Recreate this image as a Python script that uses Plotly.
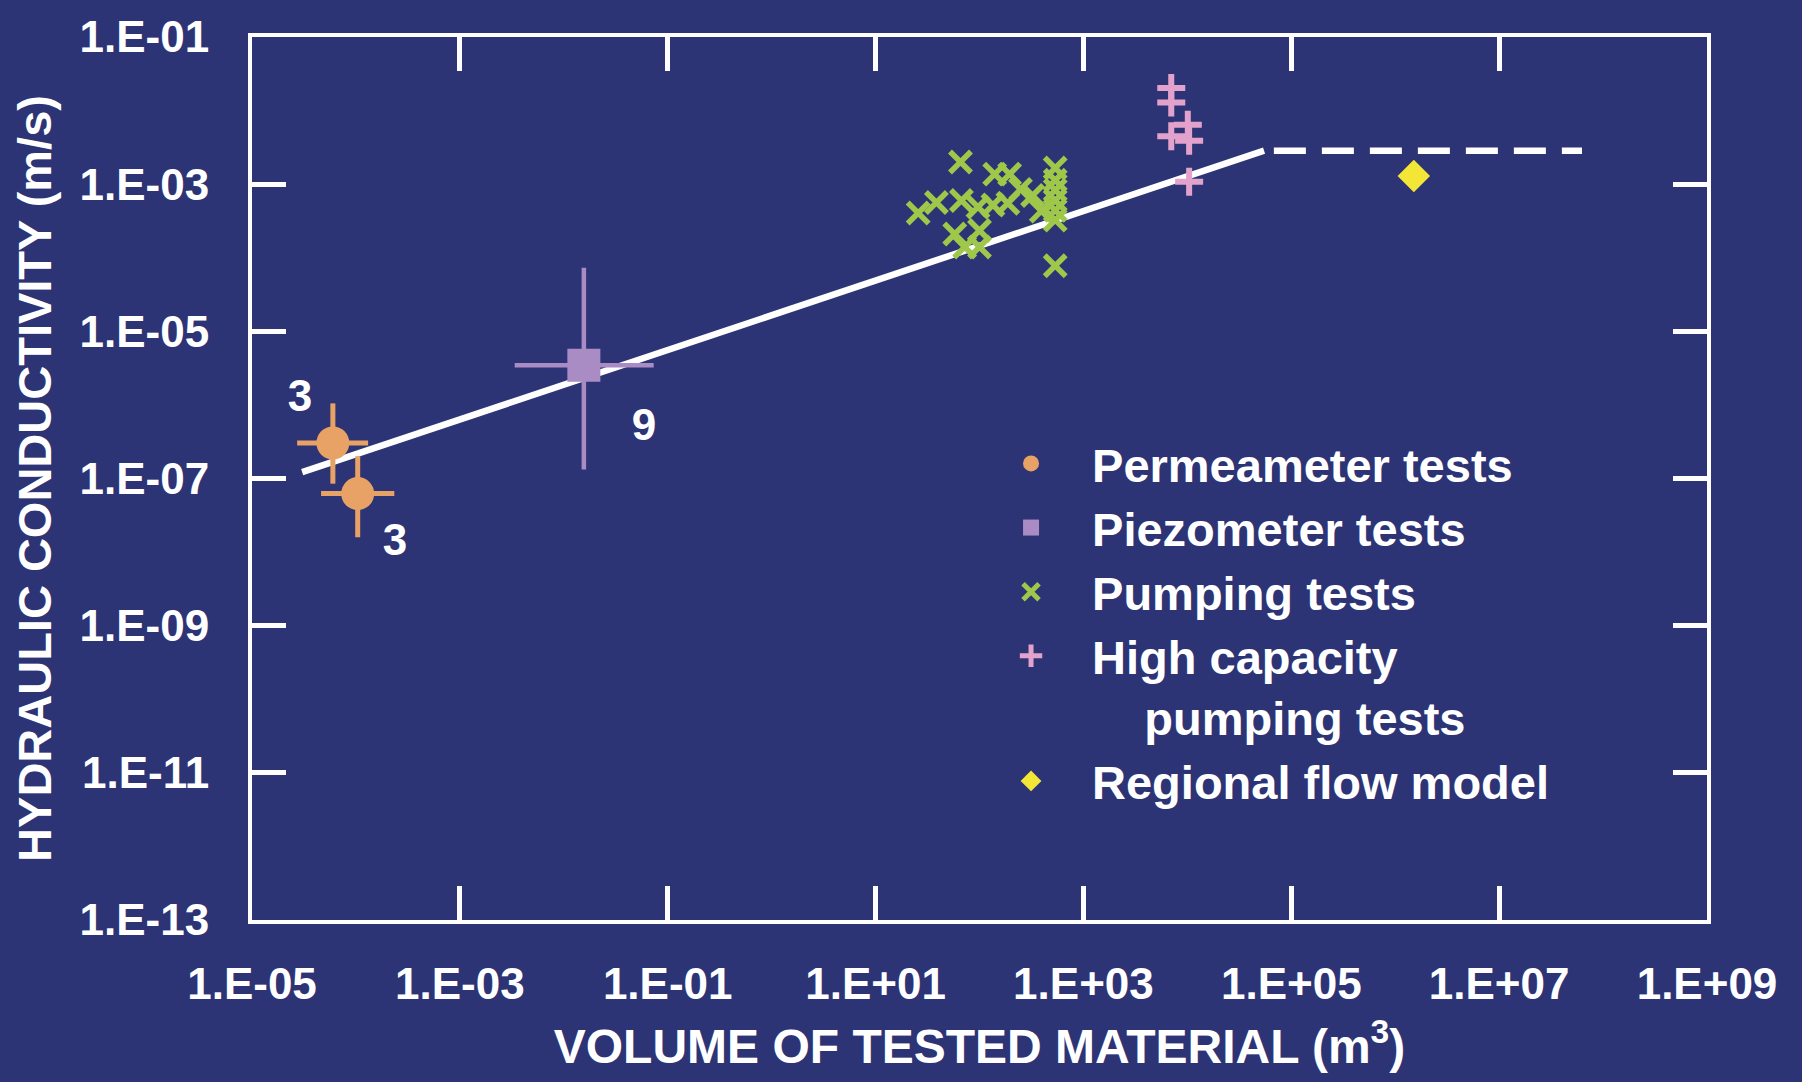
import numpy as np
import plotly.graph_objects as go

# ---- Permeameter tests (volume in m^3, conductivity in m/s) ----
perm_volume = [6.0e-5, 1.04e-4]
perm_volume_lo = [2.72e-5, 4.62e-5]
perm_volume_hi = [1.31e-4, 2.34e-4]
perm_k = [3.04e-7, 6.24e-8]
perm_k_lo = [8.5e-8, 1.59e-8]
perm_k_hi = [1.05e-6, 2.01e-7]

# ---- Piezometer tests ----
piezo_volume = [1.56e-2]
piezo_volume_lo = [3.37e-3]
piezo_volume_hi = [7.33e-2]
piezo_k = [3.47e-6]
piezo_k_lo = [1.33e-7]
piezo_k_hi = [7.33e-5]

# number of tests behind each averaged point
count_text = ["3", "3", "9"]
count_volume = [2.9e-5, 2.38e-4, 5.9e-2]
count_k = [1.18e-6, 1.29e-8, 4.72e-7]

# ---- Pumping tests ----
pump_volume = [65.6, 140, 195, 25.7, 38.5, 67, 96.7, 134.7, 187.6, 248, 324, 393,
               57.8, 100, 72, 100, 535, 535, 535, 535, 535, 535, 535]
pump_k = [2.0e-3, 1.37e-3, 1.37e-3, 4.05e-4, 5.64e-4, 6.0e-4, 4.9e-4, 5.2e-4, 5.5e-4,
          8.5e-4, 7.0e-4, 4.3e-4, 2.1e-4, 2.35e-4, 1.4e-4, 1.4e-4,
          1.66e-3, 1.13e-3, 8.3e-4, 6.0e-4, 4.4e-4, 3.25e-4, 7.8e-5]

# ---- High capacity pumping tests ----
hicap_volume = [7.0e3, 7.0e3, 1.01e4, 7.0e3, 1.04e4, 1.04e4]
hicap_k = [2.02e-2, 1.29e-2, 6.41e-3, 4.49e-3, 3.90e-3, 1.08e-3]

# ---- Regional flow model ----
regional_volume = [1.51e6]
regional_k = [1.29e-3]

# ---- Scale-effect trend ----
trend_volume = [3.04e-5, 5.47e4]
trend_k = [1.22e-7, 2.85e-3]
plateau_volume = [6.8e4, 6.27e7]
plateau_k = [2.85e-3, 2.85e-3]

# ---- Axis ticks ----
x_tick_vals = [1e-5, 1e-3, 1e-1, 1e1, 1e3, 1e5, 1e7, 1e9]
x_tick_text = ["1.E-05", "1.E-03", "1.E-01", "1.E+01", "1.E+03", "1.E+05", "1.E+07", "1.E+09"]
y_tick_vals = [1e-13, 1e-11, 1e-9, 1e-7, 1e-5, 1e-3, 1e-1]
y_tick_text = ["1.E-13", "1.E-11", "1.E-09", "1.E-07", "1.E-05", "1.E-03", "1.E-01"]

BG = "#2d3475"
WHITE = "#ffffff"
FONT = "Liberation Sans, Arial, Helvetica, sans-serif"
ORANGE = "#e8a265"
LAVENDER = "#a98cc4"
GREEN = "#9fc84b"
PINK = "#e2a2cb"
YELLOW = "#f4e637"


def err(center, lo, hi):
    c = np.asarray(center, dtype=float)
    return np.asarray(hi) - c, c - np.asarray(lo)


fig = go.Figure()

# trend lines go underneath the data
fig.add_trace(go.Scatter(x=trend_volume, y=trend_k, mode="lines",
                         line=dict(color=WHITE, width=6.5), showlegend=False,
                         hoverinfo="skip"))
fig.add_trace(go.Scatter(x=plateau_volume, y=plateau_k, mode="lines",
                         line=dict(color=WHITE, width=6.5, dash="32px,16px"),
                         showlegend=False, hoverinfo="skip"))

px_hi, px_lo = err(perm_volume, perm_volume_lo, perm_volume_hi)
py_hi, py_lo = err(perm_k, perm_k_lo, perm_k_hi)
fig.add_trace(go.Scatter(
    x=perm_volume, y=perm_k, mode="markers", name="Permeameter tests",
    marker=dict(symbol="circle", size=33, color=ORANGE, line=dict(width=0)),
    error_x=dict(type="data", symmetric=False, array=px_hi, arrayminus=px_lo,
                 color=ORANGE, thickness=5, width=0),
    error_y=dict(type="data", symmetric=False, array=py_hi, arrayminus=py_lo,
                 color=ORANGE, thickness=5, width=0),
))

zx_hi, zx_lo = err(piezo_volume, piezo_volume_lo, piezo_volume_hi)
zy_hi, zy_lo = err(piezo_k, piezo_k_lo, piezo_k_hi)
fig.add_trace(go.Scatter(
    x=piezo_volume, y=piezo_k, mode="markers", name="Piezometer tests",
    marker=dict(symbol="square", size=33, color=LAVENDER, line=dict(width=0)),
    error_x=dict(type="data", symmetric=False, array=zx_hi, arrayminus=zx_lo,
                 color=LAVENDER, thickness=4.5, width=0),
    error_y=dict(type="data", symmetric=False, array=zy_hi, arrayminus=zy_lo,
                 color=LAVENDER, thickness=4.5, width=0),
))

fig.add_trace(go.Scatter(
    x=pump_volume, y=pump_k, mode="markers", name="Pumping tests",
    marker=dict(symbol="x-thin", size=21, color=GREEN,
                line=dict(color=GREEN, width=5.5)),
))

fig.add_trace(go.Scatter(
    x=hicap_volume, y=hicap_k, mode="markers",
    name="High capacity<br>\u00a0\u00a0\u00a0\u00a0pumping tests",
    marker=dict(symbol="cross-thin", size=20, color=PINK,
                line=dict(color=PINK, width=6)),
))

fig.add_trace(go.Scatter(
    x=regional_volume, y=regional_k, mode="markers", name="Regional flow model",
    marker=dict(symbol="diamond", size=25, color=YELLOW, line=dict(width=0)),
))

fig.add_trace(go.Scatter(
    x=count_volume, y=count_k, mode="text", text=count_text,
    textposition="middle center",
    textfont=dict(family=FONT, size=44, color=WHITE, weight="bold"),
    showlegend=False, hoverinfo="skip",
))

axis_common = dict(
    type="log", showgrid=False, zeroline=False,
    showline=True, linecolor=WHITE, linewidth=4, mirror="ticks",
    ticks="inside", ticklen=34, tickwidth=5, tickcolor=WHITE,
    tickfont=dict(family=FONT, size=44, color=WHITE, weight="bold"),
)

fig.update_layout(
    width=1802, height=1082,
    margin=dict(l=252, r=95, t=34, b=162, pad=0),
    paper_bgcolor=BG, plot_bgcolor=BG,
    font=dict(family=FONT, color=WHITE, weight="bold"),
    xaxis=dict(
        axis_common, range=[-5, 9],
        tickvals=x_tick_vals, ticktext=x_tick_text, ticklabelstandoff=22,
        title=dict(text="VOLUME OF TESTED MATERIAL (m<sup>3</sup>)",
                   font=dict(family=FONT, size=48, color=WHITE, weight="bold"),
                   standoff=24),
    ),
    yaxis=dict(
        axis_common, range=[-13, -1],
        tickvals=y_tick_vals, ticktext=y_tick_text, ticklabelstandoff=30,
        title=dict(text="HYDRAULIC CONDUCTIVITY (m/s)",
                   font=dict(family=FONT, size=47, color=WHITE, weight="bold"),
                   standoff=14),
    ),
    legend=dict(
        x=0.4935, y=0.5590, xanchor="left", yanchor="top",
        bgcolor="rgba(0,0,0,0)", borderwidth=0,
        font=dict(family=FONT, size=47, color=WHITE, weight="bold"),
        itemwidth=112, valign="top", tracegroupgap=0,
    ),
)

fig.write_html("out.html")
